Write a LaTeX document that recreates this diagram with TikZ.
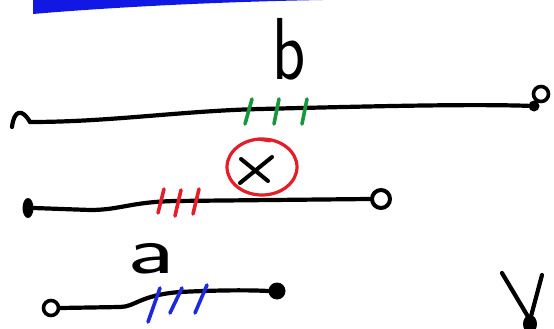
\documentclass[tikz,border=0pt]{standalone}
\usetikzlibrary{shapes.geometric}
\definecolor{penblue}{RGB}{18,24,228}
\definecolor{pengreen}{RGB}{24,150,60}
\definecolor{penred}{RGB}{228,30,40}
\definecolor{tickblue}{RGB}{30,40,220}
\begin{document}
\begin{tikzpicture}[x=1pt,y=-1pt,
  ink/.style={line width=4.2pt,line cap=round,line join=round},
  tick/.style={line width=3.6pt,line cap=round},
  opendot/.style={circle,draw,line width=3.6pt,inner sep=0pt},
  filldot/.style={circle,fill,inner sep=0pt},
  letter/.style={inner sep=0pt,anchor=base west}]
\useasboundingbox (0,0) rectangle (554,329);
% blue brush stroke at top
\fill[penblue] (33,0) -- (33,14) .. controls (90,9) and (200,2) .. (323,0) -- cycle;
% label b
\node[letter,font=\fontsize{88}{88}\selectfont\sffamily] (lb) at (272,79) {\scalebox{0.78}[1]{b}};
% line b
\coordinate (bL) at (30,122);
\node[opendot,minimum size=15pt] (bR1) at (541,94) {};
\node[filldot,minimum size=11pt] (bR2) at (534,106) {};
\draw[ink] (12,127) .. controls (14,110) and (22,108) .. (bL);
\draw[ink] (bL) .. controls (110,122) and (180,111) .. (260,109) .. controls (380,106) and (470,104) .. (bR2);
\draw[tick,pengreen] (252,99) -- (245,124);
\draw[tick,pengreen] (279,99) -- (274,124);
\draw[tick,pengreen] (307,99) -- (302,124);
% middle line with crossed circle
\node[ellipse,draw=penred,line width=3.2pt,minimum width=70pt,minimum height=56pt] (xc) at (262,167) {};
\draw[line width=4pt,line cap=round] (241,159) -- (268,181);
\draw[line width=4pt,line cap=round] (272,157) -- (240,183);
\draw[penred,line width=3pt,line cap=round] (258,139) -- (270,141);
\node[ellipse,fill,inner sep=0pt,minimum width=11pt,minimum height=20pt] (mL) at (28,208) {};
\node[opendot,minimum size=18pt,line width=4pt] (mR) at (381,199) {};
\draw[ink] (mL.east) -- (90,210) .. controls (120,210) and (130,202) .. (175,201) -- (mR.west);
\draw[tick,penred] (164,189) -- (158,213);
\draw[tick,penred] (181,190) -- (175,216);
\draw[tick,penred] (199,189) -- (193,214);
% label a
\node[letter,font=\fontsize{68}{68}\selectfont\sffamily] (la) at (127,273) {\scalebox{1.55}[1]{a}};
% line a
\node[opendot,minimum size=15pt] (aL) at (51,308) {};
\node[filldot,minimum size=17pt] (aR) at (277,291) {};
\draw[ink] (aL.east) -- (120,307) .. controls (135,307) and (140,295) .. (180,292) .. controls (220,290) and (250,290) .. (aR.west);
\draw[tick,tickblue] (160,288) -- (148,322);
\draw[tick,tickblue] (182,288) -- (170,313);
\draw[tick,tickblue] (207,285) -- (195,313);
% partial mark at bottom right
\coordinate (yb) at (530,320);
\draw[ink] (502,273) -- (yb);
\draw[ink] (542,275) -- (yb);
\fill (530,324) ellipse (7 and 9);
\end{tikzpicture}
\end{document}
